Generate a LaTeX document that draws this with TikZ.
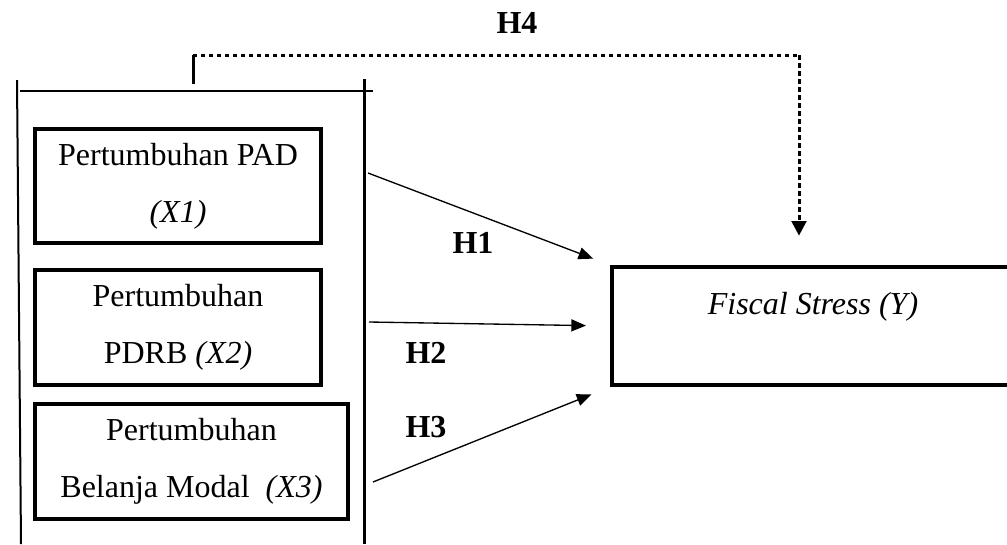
\documentclass[tikz,border=0pt]{standalone}
\usepackage{fontspec}
\setmainfont{Liberation Serif}
\usetikzlibrary{arrows.meta}
\tikzset{every picture/.style={line width=0.75pt}}
\tikzset{
  varbox/.style={draw, line width=3pt, align=center, inner sep=0pt, font=\fontsize{24}{42.5}\selectfont},
  hyplabel/.style={font=\fontsize{24}{29}\selectfont\bfseries},
  effect/.style={line width=1pt, shorten >=15pt, -{Triangle[length=11pt,width=9pt]}},
}

\begin{document}
\begin{tikzpicture}[x=0.75pt,y=0.75pt,yscale=-1,xscale=1]
\useasboundingbox (0,0) rectangle (1007,544);

%Shape: Rectangle [X1]
\node[varbox, minimum width=214.5pt, minimum height=85pt] (pad) at (178,186) {Pertumbuhan PAD\\\textit{(X1)}};
%Shape: Rectangle [X2]
\node[varbox, minimum width=214.5pt, minimum height=86pt] (pdrb) at (178,327.5) {Pertumbuhan\\PDRB \textit{(X2)}};
%Shape: Rectangle [X3]
\node[varbox, minimum width=235pt, minimum height=86pt] (modal) at (191.5,461.5) {Pertumbuhan\\Belanja Modal~ \textit{(X3)}};
%Shape: Rectangle [Y]
\node[varbox, minimum width=321pt, minimum height=88.5pt] (fiscal) at (826,326) {};

%Straight Lines [frame]
\draw [line width=1.5pt] (17,80) -- (21,544) ;
\draw [line width=1.3pt] (20,91) -- (373,91) ;
\draw [line width=2.25pt] (364,79) -- (364,544) ;

%Straight Lines [arrows]
\coordinate (h1start) at (368,173);
\coordinate (h2start) at (369,322);
\coordinate (h3start) at (373,482);
\draw [effect, shorten >=13.5pt] (h1start) -- (fiscal.north west) ;
\draw [effect, shorten >=18pt] (h2start) -- (fiscal.west) ;
\draw [effect] (h3start) -- (fiscal.south west) ;

%Dotted Lines [H4]
\coordinate (h4start) at (193,84);
\coordinate (h4bend) at (193,55);
\coordinate (h4corner) at (799,55);
\draw [line width=2.25pt] (h4start) -- (h4bend) ;
\draw [line width=2.25pt, dash pattern=on 3pt off 3pt] (h4bend) -- (h4corner) ;
\draw [line width=2.25pt, dash pattern=on 4pt off 2pt, shorten >=22pt, -{Triangle[length=11pt,width=11pt]}] (h4corner) -- (h4corner |- fiscal.north) ;

% Text Node
\node (fiscaltext) at (813,307) {\fontsize{24}{29}\selectfont\textit{Fiscal Stress (Y)}};
% Text Node
\node[hyplabel] (h1) at (473,243) {H1};
% Text Node
\node[hyplabel] (h2) at (426,353) {H2};
% Text Node
\node[hyplabel] (h3) at (426,427) {H3};
% Text Node
\node[hyplabel] (h4) at (517,23) {H4};

\end{tikzpicture}
\end{document}
